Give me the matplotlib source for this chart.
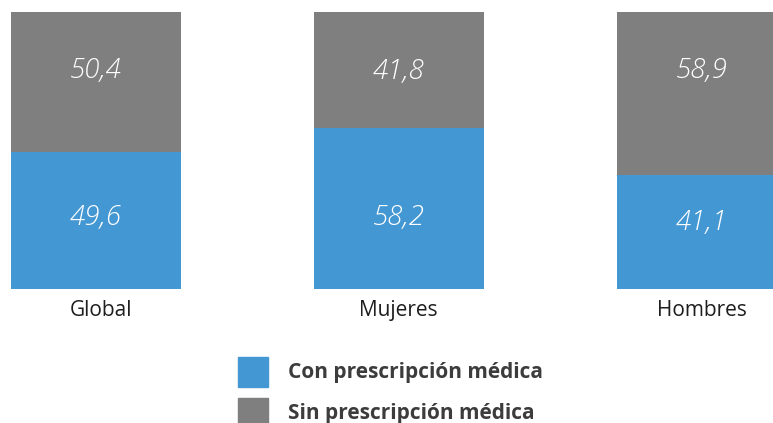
import matplotlib
matplotlib.use("Agg")
import matplotlib.pyplot as plt
import matplotlib.transforms as mtransforms
from matplotlib.patches import Rectangle

categories = ["Global", "Mujeres", "Hombres"]
con_presc = [49.6, 58.2, 41.1]
sin_presc = [50.4, 41.8, 58.9]
series_names = ["Con prescripción médica", "Sin prescripción médica"]

# label vertical positions (axis units), as placed in the original
top_label_y = [78.8, 78.5, 78.8]
bottom_label_y = [25.8, 25.8, 24.0]

BLUE = "#4397d3"
GRAY = "#7f7f7f"

W, H = 773, 423
fig = plt.figure(figsize=(W / 100, H / 100), dpi=100)
ax = fig.add_axes([0, (H - 289) / H, 1, 277 / H])

x = list(range(len(categories)))
bw = 0.5615
ax.bar(x, con_presc, width=bw, color=BLUE)
ax.bar(x, sin_presc, width=bw, bottom=con_presc, color=GRAY)

def fmt(v):
    return f"{v:.1f}".replace(".", ",")

lab_kw = dict(ha="center", va="center", color="white", fontsize=20,
              style="italic", fontweight="light", family="Open Sans")
for i in x:
    ax.text(i, bottom_label_y[i], fmt(con_presc[i]), **lab_kw)
    ax.text(i, top_label_y[i], fmt(sin_presc[i]), **lab_kw)

ax.set_xlim(-96 / 302.75, (W - 96) / 302.75)
ax.set_ylim(0, 100)
ax.set_xticks(x)
ax.set_xticklabels(categories, fontsize=15, family="Open Sans", color="#1e1e1e")
ax.tick_params(axis="x", length=0, pad=8)
ax.set_yticks([])
for s in ax.spines.values():
    s.set_visible(False)

# slight horizontal shift of the first label as in the original
lbl0 = ax.get_xticklabels()[0]
lbl0.set_transform(lbl0.get_transform() +
                   mtransforms.ScaledTranslation(5 / 100, 0, fig.dpi_scale_trans))

# legend
for (y0, col, name) in [(357, BLUE, series_names[0]), (398, GRAY, series_names[1])]:
    fig.add_artist(Rectangle((238 / W, 1 - (y0 + 30) / H), 30 / W, 30 / H,
                             transform=fig.transFigure, color=col))
    fig.text(288 / W, 1 - (y0 + 15) / H, name, ha="left", va="center",
             fontsize=15, fontweight="bold", color="#3c3c3c", family="Open Sans")

fig.savefig("out.png", dpi=100)
